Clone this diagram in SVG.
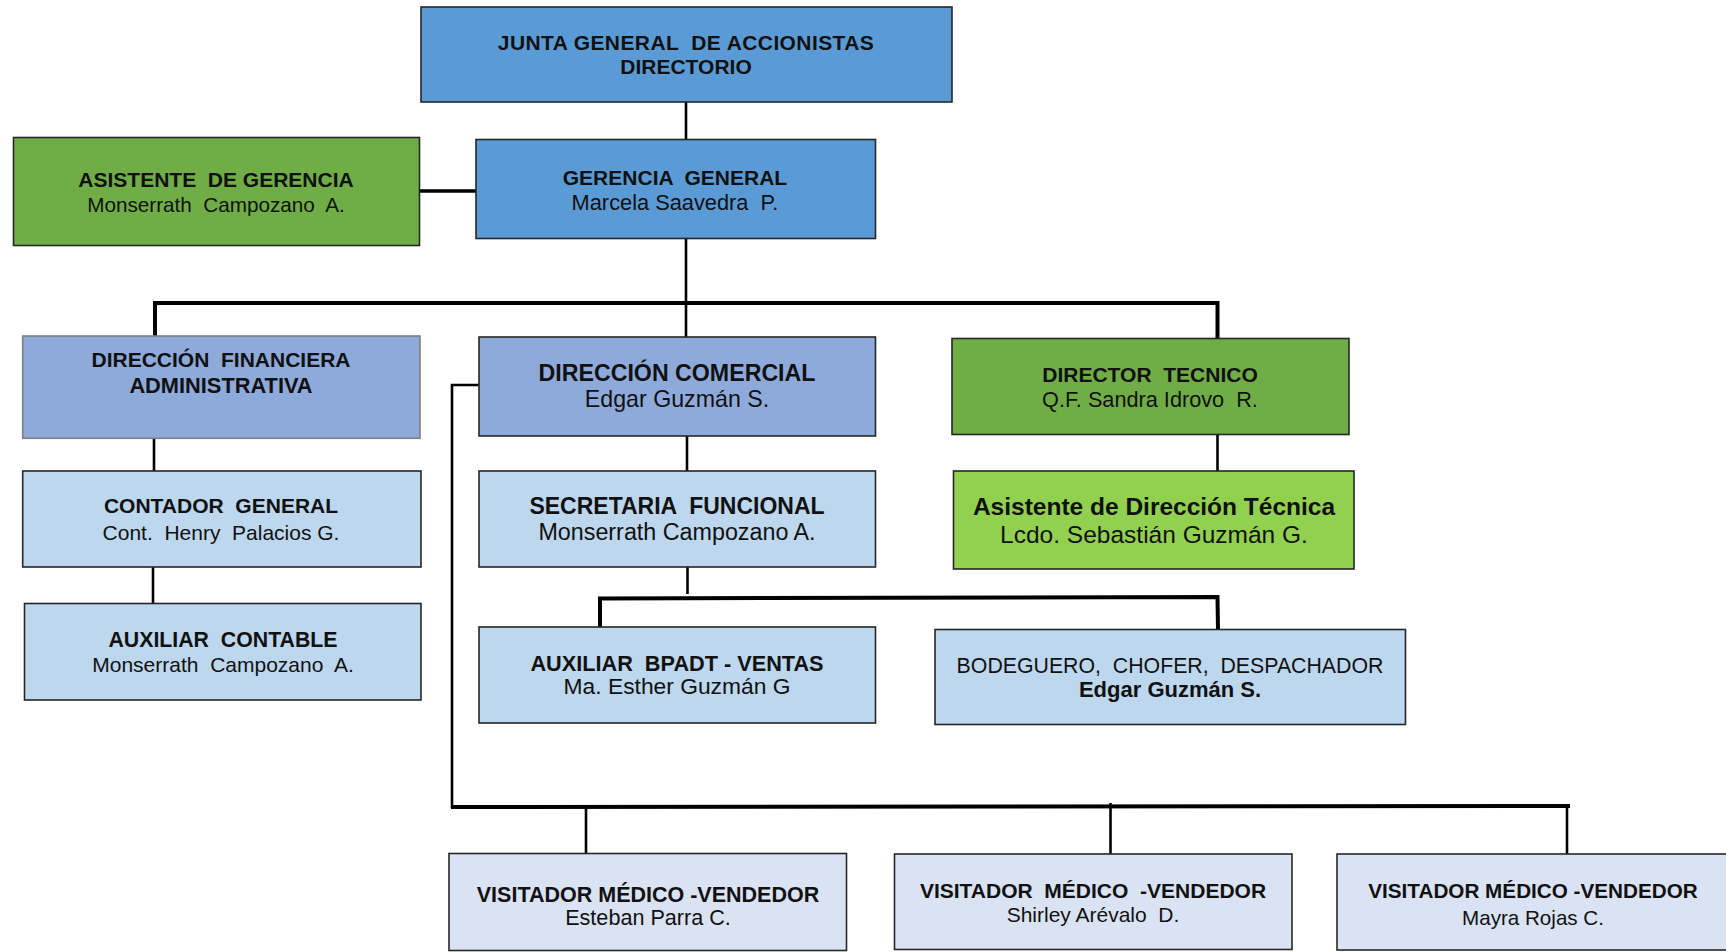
<svg xmlns="http://www.w3.org/2000/svg" width="1726" height="952" viewBox="0 0 1726 952">
<style>
text{font-family:"Liberation Sans",Arial,sans-serif;font-size:21px;fill:#111;text-anchor:middle;white-space:pre}
.b{font-weight:bold}
.box{stroke:#262626;stroke-width:1.6}
.c1{fill:#5b9bd5}
.c2{fill:#8eaadb}
.c3{fill:#bdd7ee}
.c4{fill:#70ad47}
.c5{fill:#92d050}
.c6{fill:#dae3f3}
.ln{stroke:#000;stroke-width:2.6;fill:none}
.bus{stroke:#000;stroke-width:4;fill:none}
</style>
<rect width="1726" height="952" fill="#fff"/>
<g id="connectors">
<line class="ln" x1="686" y1="102" x2="686" y2="139"/>
<line class="ln" x1="419" y1="191" x2="476" y2="191" style="stroke-width:3.4"/>
<line class="ln" x1="686" y1="239" x2="686" y2="337"/>
<polyline class="bus" points="155,337 155,303 1217.5,303 1217.5,338"/>
<line class="ln" x1="154" y1="438" x2="154" y2="471"/>
<line class="ln" x1="153" y1="567" x2="153" y2="603"/>
<line class="ln" x1="687" y1="436" x2="687" y2="471"/>
<line class="ln" x1="687.5" y1="567" x2="687.5" y2="594"/>
<polyline class="bus" points="600,627 600,598.5 1217.5,597 1218,629"/>
<line class="ln" x1="1217.5" y1="434" x2="1217.5" y2="471"/>
<polyline class="ln" points="479,385 452,385 452,808"/>
<line class="bus" x1="451" y1="807" x2="1570" y2="806"/>
<line class="ln" x1="586" y1="807" x2="586" y2="853"/>
<line class="ln" x1="1110.5" y1="803" x2="1110.5" y2="854"/>
<line class="ln" x1="1567" y1="806" x2="1567" y2="854"/>
</g>
<g id="junta">
<rect class="box c1" x="421" y="7" width="531" height="95"/>
<text class="b" x="686" y="50" style="letter-spacing:0.4px">JUNTA GENERAL  DE ACCIONISTAS</text>
<text class="b" x="686" y="74">DIRECTORIO</text>
</g>
<g id="asistente-gerencia">
<rect class="box c4" x="13.5" y="137.5" width="406" height="108"/>
<text class="b" x="216" y="187">ASISTENTE  DE GERENCIA</text>
<text x="216" y="212" style="font-size:20.7px">Monserrath  Campozano  A.</text>
</g>
<g id="gerencia">
<rect class="box c1" x="476" y="139.5" width="399.5" height="99"/>
<text class="b" x="675" y="185">GERENCIA  GENERAL</text>
<text x="675" y="210" style="font-size:21.8px">Marcela Saavedra  P.</text>
</g>
<g id="dir-financiera">
<rect class="c2" x="22.7" y="336" width="397.3" height="102.3" stroke="#7f7f7f" stroke-width="1.6"/>
<text class="b" x="221" y="367">DIRECCIÓN  FINANCIERA</text>
<text class="b" x="221" y="392.5" style="font-size:21.8px">ADMINISTRATIVA</text>
</g>
<g id="dir-comercial">
<rect class="box c2" x="479" y="337" width="396.5" height="99"/>
<text class="b" x="677" y="380.5" style="font-size:23.2px">DIRECCIÓN COMERCIAL</text>
<text x="677" y="406.5" style="font-size:23.2px">Edgar Guzmán S.</text>
</g>
<g id="director-tecnico">
<rect class="box c4" x="952" y="338.5" width="397" height="96"/>
<text class="b" x="1150" y="381.5">DIRECTOR  TECNICO</text>
<text x="1150" y="406.5" style="font-size:21.7px">Q.F. Sandra Idrovo  R.</text>
</g>
<g id="contador">
<rect class="box c3" x="22.7" y="471" width="398.3" height="96"/>
<text class="b" x="221" y="512.5">CONTADOR  GENERAL</text>
<text x="221" y="540">Cont.  Henry  Palacios G.</text>
</g>
<g id="secretaria">
<rect class="box c3" x="479" y="471" width="396.5" height="96"/>
<text class="b" x="677" y="514" style="font-size:23px">SECRETARIA  FUNCIONAL</text>
<text x="677" y="540" style="font-size:23.3px">Monserrath Campozano A.</text>
</g>
<g id="asistente-tecnica">
<rect class="box c5" x="953.5" y="471" width="400.5" height="98"/>
<text class="b" x="1154" y="515" style="font-size:24.5px">Asistente de Dirección Técnica</text>
<text x="1154" y="543" style="font-size:24.5px">Lcdo. Sebastián Guzmán G.</text>
</g>
<g id="auxiliar-contable">
<rect class="box c3" x="24.5" y="603.5" width="396.5" height="96.5"/>
<text class="b" x="223" y="647" style="font-size:21.3px">AUXILIAR  CONTABLE</text>
<text x="223" y="672">Monserrath  Campozano  A.</text>
</g>
<g id="auxiliar-bpadt">
<rect class="box c3" x="479" y="627" width="396.5" height="96"/>
<text class="b" x="677" y="670.5" style="font-size:21.7px">AUXILIAR  BPADT - VENTAS</text>
<text x="677" y="694" style="font-size:22.8px">Ma. Esther Guzmán G</text>
</g>
<g id="bodeguero">
<rect class="box c3" x="935" y="629.5" width="470.5" height="95"/>
<text x="1170" y="673" style="font-size:21.3px">BODEGUERO,  CHOFER,  DESPACHADOR</text>
<text class="b" x="1170" y="696.5" style="font-size:22px">Edgar Guzmán S.</text>
</g>
<g id="visitador-1">
<rect class="box c6" x="449" y="853.5" width="397.5" height="97"/>
<text class="b" x="648" y="901.5" style="font-size:21.5px">VISITADOR MÉDICO -VENDEDOR</text>
<text x="648" y="925" style="font-size:21.6px">Esteban Parra C.</text>
</g>
<g id="visitador-2">
<rect class="box c6" x="894.5" y="854" width="397.5" height="95.5"/>
<text class="b" x="1093" y="898">VISITADOR  MÉDICO  -VENDEDOR</text>
<text x="1093" y="921.5">Shirley Arévalo  D.</text>
</g>
<g id="visitador-3">
<rect class="box c6" x="1337" y="854" width="400" height="96"/>
<text class="b" x="1533" y="898" style="font-size:20.7px">VISITADOR MÉDICO -VENDEDOR</text>
<text x="1533" y="925" style="font-size:20.6px">Mayra Rojas C.</text>
</g>
</svg>
